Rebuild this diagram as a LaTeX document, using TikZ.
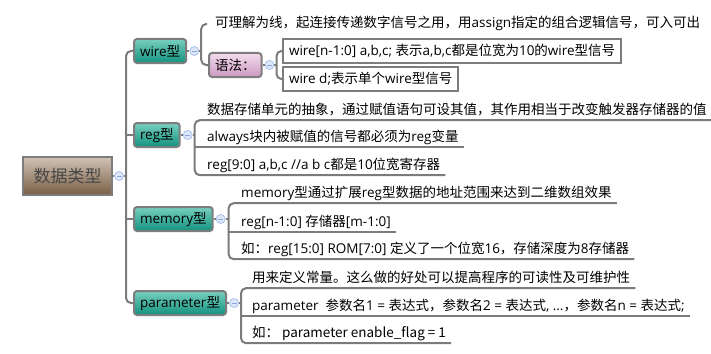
\documentclass[tikz,border=0pt]{standalone}
\usepackage{fontspec}
\setmainfont{Open Sans}
\newfontfamily\cjkfont{Noto Sans CJK SC}
\newcommand\latinfont{\rmfamily}
\XeTeXinterchartokenstate=1
\newXeTeXintercharclass\cjkclass
\newcount\cjkc
\cjkc="4E00 \loop \XeTeXcharclass\cjkc=\cjkclass \advance\cjkc by 1 \ifnum\cjkc<"A000 \repeat
\cjkc="3000 \loop \XeTeXcharclass\cjkc=\cjkclass \advance\cjkc by 1 \ifnum\cjkc<"3040 \repeat
\cjkc="FF00 \loop \XeTeXcharclass\cjkc=\cjkclass \advance\cjkc by 1 \ifnum\cjkc<"FFF0 \repeat
\XeTeXinterchartoks 0 \cjkclass = {\cjkfont}
\XeTeXinterchartoks 4095 \cjkclass = {\cjkfont}
\XeTeXinterchartoks \cjkclass 0 = {\latinfont}
\newcommand\fsz{\fontsize{13.5pt}{16pt}\selectfont}
\definecolor{lineC}{HTML}{7B7B7B}
\definecolor{borderC}{HTML}{7D7D7D}
\definecolor{tealT}{HTML}{78CFBF}
\definecolor{tealB}{HTML}{13927F}
\definecolor{pinkT}{HTML}{F3DDED}
\definecolor{pinkB}{HTML}{CC98C0}
\definecolor{brownT}{HTML}{D0C2B4}
\definecolor{brownB}{HTML}{7A5E44}
\definecolor{circF}{HTML}{DCE7FB}
\definecolor{circD}{HTML}{A8C0EC}
\definecolor{minusC}{HTML}{8CA8DC}
\definecolor{rootText}{HTML}{474747}
\tikzset{
  conn/.style={draw=lineC, line width=2pt},
  rootbox/.style={draw=borderC, line width=2pt, top color=brownT, bottom color=brownB,
    minimum width=89pt, minimum height=38pt, inner sep=0pt, text=rootText,
    font=\fontsize{17pt}{20pt}\selectfont},
  topic/.style={draw=borderC, line width=2pt, rounded corners=3pt, top color=tealT,
    bottom color=tealB, minimum height=24pt, inner xsep=6pt, inner ysep=0pt,
    anchor=west, font=\fsz, text=black},
  syntopic/.style={topic, top color=pinkT, bottom color=pinkB},
  sbox/.style={draw=borderC, line width=2pt, fill=white, minimum height=24pt,
    inner xsep=6pt, inner ysep=0pt, anchor=west, font=\fsz},
  ultext/.style={anchor=base west, inner xsep=5pt, inner ysep=3pt, text height=10pt,
    text depth=3pt, font=\fsz},
  plaintext/.style={anchor=west, inner xsep=8pt, inner ysep=3pt, text height=10pt,
    text depth=3pt, font=\fsz},
  circ/.style={circle, fill=circF, draw=circD, line width=0.8pt, minimum size=9pt,
    inner sep=0pt,
    path picture={\draw[minusC, line width=0.9pt]
      ([xshift=-2.5pt]path picture bounding box.center) --
      ([xshift=2.5pt]path picture bounding box.center);}},
}
\begin{document}
\begin{tikzpicture}[x=1pt, y=-1pt]
\path[use as bounding box] (0,0) rectangle (711,353);

% nodes
\node[rootbox] (root) at (67.5,176) {数据类型};
\node[circ] (cRoot) at ([xshift=6pt]root.east) {};
\coordinate (bRoot) at ([xshift=7pt]cRoot.center);

\node[topic] (wire) at (133,51) {wire型};
\node[topic] (reg) at (133,135) {reg型};
\node[topic] (mem) at (133,219) {memory型};
\node[topic] (par) at (133,303) {parameter型};

\node[circ] (cWire) at ([xshift=7pt]wire.east) {};
\node[circ] (cReg) at ([xshift=7pt]reg.east) {};
\node[circ] (cMem) at ([xshift=7pt]mem.east) {};
\node[circ] (cPar) at ([xshift=7pt]par.east) {};
\coordinate (bWire) at ([xshift=7pt]cWire.center);
\coordinate (bReg) at ([xshift=7pt]cReg.center);
\coordinate (bMem) at ([xshift=8pt]cMem.center);
\coordinate (bPar) at ([xshift=7pt]cPar.center);

% wire children
\node[plaintext] (w1) at (207,24) {可理解为线，起连接传递数字信号之用，用assign指定的组合逻辑信号，可入可出};
\node[syntopic] (syn) at (208,65) {语法：};
\node[circ] (cSyn) at ([xshift=7pt]syn.east) {};
\coordinate (bSyn) at ([xshift=7pt]cSyn.center);
\node[sbox] (s1) at (282,51) {wire[n-1:0] a,b,c; 表示a,b,c都是位宽为10的wire型信号};
\node[sbox] (s2) at (282,79) {wire d;表示单个wire型信号};

% reg children
\node[ultext] (r1) at (202,114) {数据存储单元的抽象，通过赋值语句可设其值，其作用相当于改变触发器存储器的值};
\node[ultext] (r2) at (202,141) {always块内被赋值的信号都必须为reg变量};
\node[ultext] (r3) at (202,169) {reg[9:0] a,b,c //a b c都是10位宽寄存器};

% memory children
\node[ultext] (m1) at (236,197) {memory型通过扩展reg型数据的地址范围来达到二维数组效果};
\node[ultext] (m2) at (236,226) {reg[n-1:0] 存储器[m-1:0]};
\node[ultext] (m3) at (236,253) {如：reg[15:0] ROM[7:0] 定义了一个位宽16，存储深度为8存储器};

% parameter children
\node[ultext] (p1) at (247,282) {用来定义常量。这么做的好处可以提高程序的可读性及可维护性};
\node[ultext] (p2) at (247,310) {parameter\ \ 参数名1 = 表达式，参数名2 = 表达式, …，参数名n = 表达式;};
\node[ultext] (p3) at (247,337) {如： parameter enable\_flag = 1};

% connectors
\draw[conn] (root.east) -- (cRoot.west);
\draw[conn] (cRoot.east) -- (bRoot);
\draw[conn, rounded corners=5pt] (wire.west) -| (bRoot) |- (par.west);
\draw[conn] (bRoot |- reg.west) -- (reg.west);
\draw[conn] (bRoot |- mem.west) -- (mem.west);

\draw[conn] (wire.east) -- (cWire.west);
\draw[conn] (reg.east) -- (cReg.west);
\draw[conn] (mem.east) -- (cMem.west);
\draw[conn] (par.east) -- (cPar.west);
\draw[conn] (cWire.east) -- (bWire);
\draw[conn] (cReg.east) -- (bReg);
\draw[conn] (cMem.east) -- (bMem);
\draw[conn] (cPar.east) -- (bPar);

\draw[conn, rounded corners=5pt] (w1.west) -| (bWire) |- (syn.west);
\draw[conn] (syn.east) -- (cSyn.west);
\draw[conn] (cSyn.east) -- (bSyn);
\draw[conn, rounded corners=5pt] (s1.west) -| (bSyn) |- (s2.west);

\draw[conn, rounded corners=5pt] (r1.south east) -| (bReg) |- (r3.south east);
\draw[conn] (bReg |- r2.south) -- (r2.south east);

\draw[conn, rounded corners=5pt] (m1.south east) -| (bMem) |- (m3.south east);
\draw[conn] (bMem |- m2.south) -- (m2.south east);

\draw[conn, rounded corners=5pt] (p1.south east) -| (bPar) |- (p3.south east);
\draw[conn] (bPar |- p2.south) -- (p2.south east);
\end{tikzpicture}
\end{document}
